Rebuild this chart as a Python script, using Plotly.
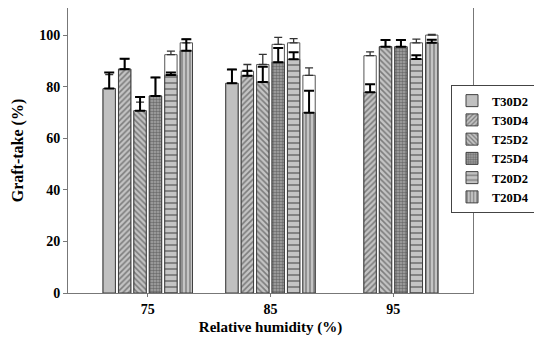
import plotly.graph_objects as go

humidity = [75, 85, 95]
series = ["T30D2", "T30D4", "T25D2", "T25D4", "T20D2", "T20D4"]

# front (patterned) bars and their upper errors
front_vals = {
    "T30D2": [79.3, 81.3, None],
    "T30D4": [86.8, 84.2, 77.8],
    "T25D2": [70.7, 81.8, 95.5],
    "T25D4": [76.4, 89.5, 95.5],
    "T20D2": [84.5, 90.6, 90.7],
    "T20D4": [93.9, 69.9, 97.0],
}
front_err = {
    "T30D2": [6.2, 5.4, None],
    "T30D4": [4.0, 2.0, 3.1],
    "T25D2": [5.3, 5.9, 2.6],
    "T25D4": [7.2, 5.5, 2.6],
    "T20D2": [1.0, 2.7, 1.5],
    "T20D4": [4.5, 8.5, 1.2],
}
# back (white) bars and their upper errors
back_vals = {
    "T30D2": [79.0, 81.3, None],
    "T30D4": [86.8, 86.0, 92.0],
    "T25D2": [70.7, 88.6, 95.5],
    "T25D4": [76.4, 96.4, 95.5],
    "T20D2": [92.4, 97.0, 97.0],
    "T20D4": [97.0, 84.4, 100.0],
}
back_err = {
    "T30D2": [5.7, 5.4, None],
    "T30D4": [4.0, 2.6, 1.5],
    "T25D2": [3.3, 3.9, 2.6],
    "T25D4": [7.2, 2.7, 2.6],
    "T20D2": [1.4, 1.6, 1.4],
    "T20D4": [1.4, 2.9, 0.3],
}

pattern_style = {
    "T30D2": dict(shape="", size=4, solidity=0.3, bg="#c0c0c0"),
    "T30D4": dict(shape="/", size=4, solidity=0.4, bg="#c4c4c4"),
    "T25D2": dict(shape="\\", size=4, solidity=0.4, bg="#c4c4c4"),
    "T25D4": dict(shape=".", size=3, solidity=0.55, bg="#a8a8a8"),
    "T20D2": dict(shape="-", size=6, solidity=0.3, bg="#c4c4c4"),
    "T20D4": dict(shape="|", size=4, solidity=0.35, bg="#c4c4c4"),
}

FONT = "Liberation Serif"
fig = go.Figure()

for s in series:
    st = pattern_style[s]
    fig.add_trace(go.Bar(
        x=humidity, y=back_vals[s], offsetgroup=s, showlegend=False,
        marker=dict(color="white", line=dict(color="#555555", width=1)),
        error_y=dict(type="data", symmetric=False, array=back_err[s],
                     arrayminus=[0, 0, 0], color="#333333", thickness=1.3, width=4),
        hoverinfo="skip",
    ))
    fig.add_trace(go.Bar(
        x=humidity, y=front_vals[s], offsetgroup=s, name=s,
        marker=dict(color=st["bg"], line=dict(color="#404040", width=1),
                    pattern=dict(shape=st["shape"], fgcolor="#333333",
                                 bgcolor=st["bg"], size=st["size"],
                                 solidity=st["solidity"])),
        error_y=dict(type="data", symmetric=False, array=front_err[s],
                     arrayminus=[0, 0, 0], color="black", thickness=2, width=5),
    ))

# page body adds an 8px offset; margins compensate for it
fig.update_layout(
    width=542, height=340,
    margin=dict(l=60, r=77, t=0, b=55, autoexpand=False),
    paper_bgcolor="white", plot_bgcolor="white",
    barmode="group", bargap=0.246, bargroupgap=0.2,
    font=dict(family=FONT, size=13, color="black"),
    legend=dict(xref="container", yref="container",
                x=(451 - 8) / 542, y=1 - (149 - 8) / 340,
                xanchor="left", yanchor="middle",
                bgcolor="white", bordercolor="#444444", borderwidth=1,
                font=dict(family=FONT, size=12.5, color="black", weight="bold"),
                itemwidth=30, tracegroupgap=0),
    showlegend=True,
)
fig.update_xaxes(
    range=[68.5, 101.5], tickvals=humidity, ticktext=[str(h) for h in humidity],
    showline=True, linecolor="#777777", linewidth=1, mirror=True,
    ticks="outside", ticklen=3, tickcolor="#777777", showgrid=False, zeroline=False,
    tickfont=dict(family=FONT, size=14, color="black", weight="bold"),
    title=dict(text="<b>Relative humidity (%)</b>", standoff=5,
               font=dict(family=FONT, size=15, color="black")),
)
fig.update_yaxes(
    range=[0, 110.5], tickvals=[0, 20, 40, 60, 80, 100],
    showline=True, linecolor="#777777", linewidth=1, mirror=True,
    ticks="outside", ticklen=4, tickcolor="#777777", showgrid=False, zeroline=False,
    tickfont=dict(family=FONT, size=14, color="black", weight="bold"),
    title=dict(text="<b>Graft-take (%)</b>", standoff=11,
               font=dict(family=FONT, size=16, color="black")),
)

fig.write_html("out.html")
